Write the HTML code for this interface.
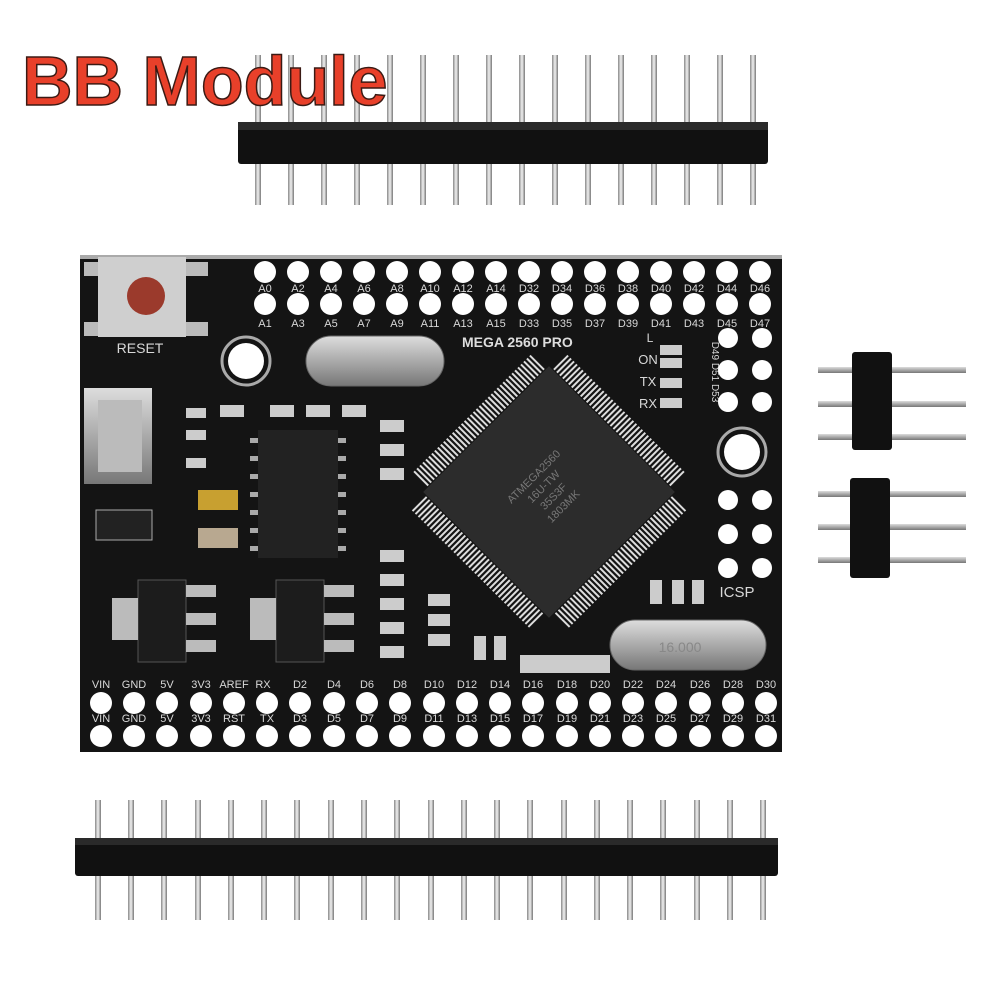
<!DOCTYPE html>
<html><head><meta charset="utf-8"><style>
html,body{margin:0;padding:0;background:#fff;width:1000px;height:1000px;overflow:hidden}
svg{display:block}
.l{font-family:"Liberation Sans",sans-serif;font-size:11px;fill:#d8d8d8;text-anchor:middle}
</style></head><body>
<svg width="1000" height="1000" viewBox="0 0 1000 1000" xmlns="http://www.w3.org/2000/svg">
<defs>
<linearGradient id="pin" x1="0" x2="1"><stop offset="0" stop-color="#888"/><stop offset=".5" stop-color="#f2f2f2"/><stop offset="1" stop-color="#777"/></linearGradient>
<linearGradient id="met" x1="0" x2="0" y1="0" y2="1"><stop offset="0" stop-color="#ddd"/><stop offset=".5" stop-color="#aaa"/><stop offset="1" stop-color="#777"/></linearGradient>
</defs>
<rect width="1000" height="1000" fill="#fff"/>

<g fill="url(#pin)">
<rect x="255" y="55" width="6" height="150"/><rect x="288" y="55" width="6" height="150"/><rect x="321" y="55" width="6" height="150"/><rect x="354" y="55" width="6" height="150"/><rect x="387" y="55" width="6" height="150"/><rect x="420" y="55" width="6" height="150"/><rect x="453" y="55" width="6" height="150"/><rect x="486" y="55" width="6" height="150"/><rect x="519" y="55" width="6" height="150"/><rect x="552" y="55" width="6" height="150"/><rect x="585" y="55" width="6" height="150"/><rect x="618" y="55" width="6" height="150"/><rect x="651" y="55" width="6" height="150"/><rect x="684" y="55" width="6" height="150"/><rect x="717" y="55" width="6" height="150"/><rect x="750" y="55" width="6" height="150"/>
</g>
<rect x="238" y="122" width="530" height="42" rx="3" fill="#111"/>
<rect x="238" y="122" width="530" height="8" fill="#2a2a2a"/>

<text x="22" y="105" font-family="'Liberation Sans',sans-serif" font-weight="bold" font-size="70" fill="#e8402a" stroke="#3a1a14" stroke-width="1.5">BB Module</text>

<rect x="80" y="255" width="702" height="497" fill="#141414"/>
<rect x="80" y="255" width="702" height="4" fill="#aaa"/>

<rect x="98" y="257" width="88" height="80" fill="#cfcfcf"/>
<circle cx="146" cy="296" r="19" fill="#9b3a2c"/>
<text x="140" y="353" class="l" style="font-size:14px">RESET</text>
<rect x="186" y="262" width="22" height="14" fill="#bbb"/><rect x="186" y="322" width="22" height="14" fill="#bbb"/>
<rect x="84" y="262" width="14" height="14" fill="#bbb"/><rect x="84" y="322" width="14" height="14" fill="#bbb"/>

<rect x="84" y="388" width="68" height="96" fill="url(#met)"/>
<rect x="98" y="400" width="44" height="72" fill="#bbb"/>
<circle cx="246" cy="361" r="24" fill="none" stroke="#aaa" stroke-width="3"/><circle cx="246" cy="361" r="18" fill="#fff"/>
<circle cx="742" cy="452" r="24" fill="none" stroke="#aaa" stroke-width="3"/><circle cx="742" cy="452" r="18" fill="#fff"/>

<rect x="306" y="336" width="138" height="50" rx="25" fill="url(#met)" stroke="#666"/>
<rect x="610" y="620" width="156" height="50" rx="25" fill="url(#met)" stroke="#666"/>
<text x="680" y="652" class="l" style="fill:#888;font-size:14px">16.000</text>

<rect x="258" y="430" width="80" height="128" fill="#222"/>
<g fill="#aaa"><rect x="250" y="438" width="8" height="5"/><rect x="250" y="456" width="8" height="5"/><rect x="250" y="474" width="8" height="5"/><rect x="250" y="492" width="8" height="5"/><rect x="250" y="510" width="8" height="5"/><rect x="250" y="528" width="8" height="5"/><rect x="250" y="546" width="8" height="5"/>
<rect x="338" y="438" width="8" height="5"/><rect x="338" y="456" width="8" height="5"/><rect x="338" y="474" width="8" height="5"/><rect x="338" y="492" width="8" height="5"/><rect x="338" y="510" width="8" height="5"/><rect x="338" y="528" width="8" height="5"/><rect x="338" y="546" width="8" height="5"/></g>

<rect x="138" y="580" width="48" height="82" fill="#1c1c1c" stroke="#555"/>
<rect x="186" y="585" width="30" height="12" fill="#bbb"/><rect x="186" y="613" width="30" height="12" fill="#bbb"/><rect x="186" y="640" width="30" height="12" fill="#bbb"/>
<rect x="112" y="598" width="26" height="42" fill="#bbb"/>
<rect x="276" y="580" width="48" height="82" fill="#1c1c1c" stroke="#555"/>
<rect x="324" y="585" width="30" height="12" fill="#bbb"/><rect x="324" y="613" width="30" height="12" fill="#bbb"/><rect x="324" y="640" width="30" height="12" fill="#bbb"/>
<rect x="250" y="598" width="26" height="42" fill="#bbb"/>
<rect x="96" y="510" width="56" height="30" fill="#222" stroke="#aaa"/>
<rect x="198" y="528" width="40" height="20" fill="#b8a890"/>
<rect x="198" y="490" width="40" height="20" fill="#c8a030"/>

<g fill="#ccc">
<rect x="380" y="550" width="24" height="12"/><rect x="380" y="574" width="24" height="12"/><rect x="380" y="598" width="24" height="12"/><rect x="380" y="622" width="24" height="12"/><rect x="380" y="646" width="24" height="12"/>
<rect x="428" y="594" width="22" height="12"/><rect x="428" y="614" width="22" height="12"/><rect x="428" y="634" width="22" height="12"/>
<rect x="380" y="420" width="24" height="12"/><rect x="380" y="444" width="24" height="12"/><rect x="380" y="468" width="24" height="12"/>
<rect x="220" y="405" width="24" height="12"/><rect x="270" y="405" width="24" height="12"/><rect x="306" y="405" width="24" height="12"/><rect x="342" y="405" width="24" height="12"/>
<rect x="650" y="580" width="12" height="24"/><rect x="672" y="580" width="12" height="24"/><rect x="692" y="580" width="12" height="24"/>
<rect x="474" y="636" width="12" height="24"/><rect x="494" y="636" width="12" height="24"/>
<rect x="186" y="408" width="20" height="10"/><rect x="186" y="430" width="20" height="10"/>
<rect x="186" y="458" width="20" height="10"/>
<rect x="660" y="345" width="22" height="10"/><rect x="660" y="358" width="22" height="10"/><rect x="660" y="378" width="22" height="10"/><rect x="660" y="398" width="22" height="10"/>
</g>
<rect x="520" y="655" width="90" height="18" fill="#ccc"/>

<g transform="translate(549,492) rotate(45)">
<g stroke="#ddd" stroke-width="20" stroke-dasharray="2 2.2">
<line x1="-84" y1="-100" x2="84" y2="-100"/>
<line x1="-84" y1="100" x2="84" y2="100"/>
<line x1="-100" y1="-84" x2="-100" y2="84"/>
<line x1="100" y1="-84" x2="100" y2="84"/>
</g>
<rect x="-89" y="-89" width="178" height="178" fill="#2c2c2c"/>
</g>
<g transform="translate(549,492) rotate(-45)" font-family="'Liberation Sans',sans-serif" font-size="11" fill="#777" text-anchor="middle">
<text y="-18">ATMEGA2560</text><text y="-4">16U-TW</text><text y="10">35S3F</text><text y="24">1803MK</text>
</g>

<text x="462" y="347" font-family="'Liberation Sans',sans-serif" font-weight="bold" font-size="14" fill="#ddd">MEGA 2560 PRO</text>
<text x="650" y="342" class="l" style="font-size:12px">L</text>
<text x="648" y="364" class="l" style="font-size:13px">ON</text>
<text x="648" y="386" class="l" style="font-size:13px">TX</text>
<text x="648" y="408" class="l" style="font-size:13px">RX</text>
<text x="737" y="597" class="l" style="font-size:15px">ICSP</text>
<text transform="translate(712,372) rotate(90)" class="l" style="font-size:10px">D49 D51 D53</text>

<g fill="#fff">
<circle cx="728" cy="338" r="10"/><circle cx="762" cy="338" r="10"/>
<circle cx="728" cy="370" r="10"/><circle cx="762" cy="370" r="10"/>
<circle cx="728" cy="402" r="10"/><circle cx="762" cy="402" r="10"/>
<circle cx="728" cy="500" r="10"/><circle cx="762" cy="500" r="10"/>
<circle cx="728" cy="534" r="10"/><circle cx="762" cy="534" r="10"/>
<circle cx="728" cy="568" r="10"/><circle cx="762" cy="568" r="10"/>
</g>

<g fill="#fff">
<circle cx="265" cy="272" r="11"/><circle cx="298" cy="272" r="11"/><circle cx="331" cy="272" r="11"/><circle cx="364" cy="272" r="11"/><circle cx="397" cy="272" r="11"/><circle cx="430" cy="272" r="11"/><circle cx="463" cy="272" r="11"/><circle cx="496" cy="272" r="11"/><circle cx="529" cy="272" r="11"/><circle cx="562" cy="272" r="11"/><circle cx="595" cy="272" r="11"/><circle cx="628" cy="272" r="11"/><circle cx="661" cy="272" r="11"/><circle cx="694" cy="272" r="11"/><circle cx="727" cy="272" r="11"/><circle cx="760" cy="272" r="11"/>
<circle cx="265" cy="304" r="11"/><circle cx="298" cy="304" r="11"/><circle cx="331" cy="304" r="11"/><circle cx="364" cy="304" r="11"/><circle cx="397" cy="304" r="11"/><circle cx="430" cy="304" r="11"/><circle cx="463" cy="304" r="11"/><circle cx="496" cy="304" r="11"/><circle cx="529" cy="304" r="11"/><circle cx="562" cy="304" r="11"/><circle cx="595" cy="304" r="11"/><circle cx="628" cy="304" r="11"/><circle cx="661" cy="304" r="11"/><circle cx="694" cy="304" r="11"/><circle cx="727" cy="304" r="11"/><circle cx="760" cy="304" r="11"/>
</g>
<g>
<text class="l" x="265" y="292">A0</text><text class="l" x="298" y="292">A2</text><text class="l" x="331" y="292">A4</text><text class="l" x="364" y="292">A6</text><text class="l" x="397" y="292">A8</text><text class="l" x="430" y="292">A10</text><text class="l" x="463" y="292">A12</text><text class="l" x="496" y="292">A14</text><text class="l" x="529" y="292">D32</text><text class="l" x="562" y="292">D34</text><text class="l" x="595" y="292">D36</text><text class="l" x="628" y="292">D38</text><text class="l" x="661" y="292">D40</text><text class="l" x="694" y="292">D42</text><text class="l" x="727" y="292">D44</text><text class="l" x="760" y="292">D46</text>
<text class="l" x="265" y="327">A1</text><text class="l" x="298" y="327">A3</text><text class="l" x="331" y="327">A5</text><text class="l" x="364" y="327">A7</text><text class="l" x="397" y="327">A9</text><text class="l" x="430" y="327">A11</text><text class="l" x="463" y="327">A13</text><text class="l" x="496" y="327">A15</text><text class="l" x="529" y="327">D33</text><text class="l" x="562" y="327">D35</text><text class="l" x="595" y="327">D37</text><text class="l" x="628" y="327">D39</text><text class="l" x="661" y="327">D41</text><text class="l" x="694" y="327">D43</text><text class="l" x="727" y="327">D45</text><text class="l" x="760" y="327">D47</text>
</g>

<g fill="#fff">
<circle cx="101" cy="703" r="11"/><circle cx="134" cy="703" r="11"/><circle cx="167" cy="703" r="11"/><circle cx="201" cy="703" r="11"/><circle cx="234" cy="703" r="11"/><circle cx="267" cy="703" r="11"/><circle cx="300" cy="703" r="11"/><circle cx="334" cy="703" r="11"/><circle cx="367" cy="703" r="11"/><circle cx="400" cy="703" r="11"/><circle cx="434" cy="703" r="11"/><circle cx="467" cy="703" r="11"/><circle cx="500" cy="703" r="11"/><circle cx="533" cy="703" r="11"/><circle cx="567" cy="703" r="11"/><circle cx="600" cy="703" r="11"/><circle cx="633" cy="703" r="11"/><circle cx="666" cy="703" r="11"/><circle cx="700" cy="703" r="11"/><circle cx="733" cy="703" r="11"/><circle cx="766" cy="703" r="11"/>
<circle cx="101" cy="736" r="11"/><circle cx="134" cy="736" r="11"/><circle cx="167" cy="736" r="11"/><circle cx="201" cy="736" r="11"/><circle cx="234" cy="736" r="11"/><circle cx="267" cy="736" r="11"/><circle cx="300" cy="736" r="11"/><circle cx="334" cy="736" r="11"/><circle cx="367" cy="736" r="11"/><circle cx="400" cy="736" r="11"/><circle cx="434" cy="736" r="11"/><circle cx="467" cy="736" r="11"/><circle cx="500" cy="736" r="11"/><circle cx="533" cy="736" r="11"/><circle cx="567" cy="736" r="11"/><circle cx="600" cy="736" r="11"/><circle cx="633" cy="736" r="11"/><circle cx="666" cy="736" r="11"/><circle cx="700" cy="736" r="11"/><circle cx="733" cy="736" r="11"/><circle cx="766" cy="736" r="11"/>
</g>
<g>
<text class="l" x="101" y="688">VIN</text><text class="l" x="134" y="688">GND</text><text class="l" x="167" y="688">5V</text><text class="l" x="201" y="688">3V3</text><text class="l" x="234" y="688">AREF</text><text class="l" x="263" y="688">RX</text><text class="l" x="300" y="688">D2</text><text class="l" x="334" y="688">D4</text><text class="l" x="367" y="688">D6</text><text class="l" x="400" y="688">D8</text><text class="l" x="434" y="688">D10</text><text class="l" x="467" y="688">D12</text><text class="l" x="500" y="688">D14</text><text class="l" x="533" y="688">D16</text><text class="l" x="567" y="688">D18</text><text class="l" x="600" y="688">D20</text><text class="l" x="633" y="688">D22</text><text class="l" x="666" y="688">D24</text><text class="l" x="700" y="688">D26</text><text class="l" x="733" y="688">D28</text><text class="l" x="766" y="688">D30</text>
<text class="l" x="101" y="722">VIN</text><text class="l" x="134" y="722">GND</text><text class="l" x="167" y="722">5V</text><text class="l" x="201" y="722">3V3</text><text class="l" x="234" y="722">RST</text><text class="l" x="267" y="722">TX</text><text class="l" x="300" y="722">D3</text><text class="l" x="334" y="722">D5</text><text class="l" x="367" y="722">D7</text><text class="l" x="400" y="722">D9</text><text class="l" x="434" y="722">D11</text><text class="l" x="467" y="722">D13</text><text class="l" x="500" y="722">D15</text><text class="l" x="533" y="722">D17</text><text class="l" x="567" y="722">D19</text><text class="l" x="600" y="722">D21</text><text class="l" x="633" y="722">D23</text><text class="l" x="666" y="722">D25</text><text class="l" x="700" y="722">D27</text><text class="l" x="733" y="722">D29</text><text class="l" x="766" y="722">D31</text>
</g>

<g fill="url(#met)">
<rect x="818" y="367" width="148" height="6"/><rect x="818" y="401" width="148" height="6"/><rect x="818" y="434" width="148" height="6"/>
<rect x="818" y="491" width="148" height="6"/><rect x="818" y="524" width="148" height="6"/><rect x="818" y="557" width="148" height="6"/>
</g>
<rect x="852" y="352" width="40" height="98" rx="3" fill="#111"/>
<rect x="850" y="478" width="40" height="100" rx="3" fill="#111"/>

<g fill="url(#pin)">
<rect x="95" y="800" width="6" height="120"/><rect x="128" y="800" width="6" height="120"/><rect x="161" y="800" width="6" height="120"/><rect x="195" y="800" width="6" height="120"/><rect x="228" y="800" width="6" height="120"/><rect x="261" y="800" width="6" height="120"/><rect x="294" y="800" width="6" height="120"/><rect x="328" y="800" width="6" height="120"/><rect x="361" y="800" width="6" height="120"/><rect x="394" y="800" width="6" height="120"/><rect x="428" y="800" width="6" height="120"/><rect x="461" y="800" width="6" height="120"/><rect x="494" y="800" width="6" height="120"/><rect x="527" y="800" width="6" height="120"/><rect x="561" y="800" width="6" height="120"/><rect x="594" y="800" width="6" height="120"/><rect x="627" y="800" width="6" height="120"/><rect x="660" y="800" width="6" height="120"/><rect x="694" y="800" width="6" height="120"/><rect x="727" y="800" width="6" height="120"/><rect x="760" y="800" width="6" height="120"/>
</g>
<rect x="75" y="838" width="703" height="38" rx="3" fill="#111"/>
<rect x="75" y="838" width="703" height="7" fill="#2a2a2a"/>
</svg>
</body></html>
